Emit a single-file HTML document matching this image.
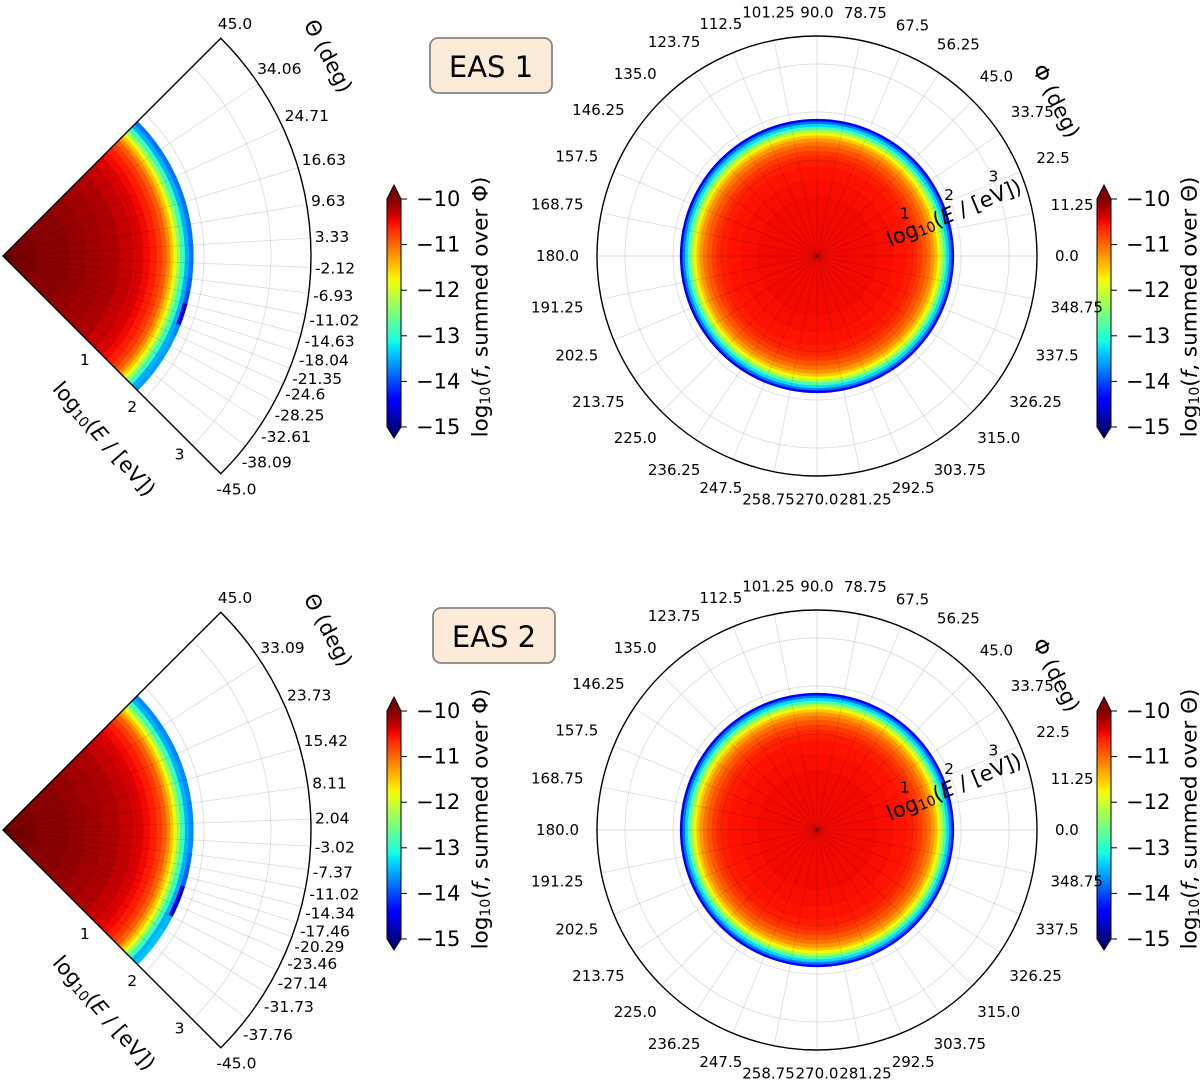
<!DOCTYPE html>
<html>
<head>
<meta charset="utf-8">
<style>
  html,body{margin:0;padding:0;background:#fff;}
  svg{display:block;font-family:"DejaVu Sans","Liberation Sans",sans-serif;}
</style>
</head>
<body>
<svg id="fig" width="1200" height="1084" viewBox="0 0 1200 1084" xmlns="http://www.w3.org/2000/svg">
  <defs>
    <linearGradient id="jetgrad" x1="0" y1="1" x2="0" y2="0"></linearGradient>
  </defs>
</svg>
<script>
// ---------------- data ----------------
const thetaTicks1 = [45.0, 34.06, 24.71, 16.63, 9.63, 3.33, -2.12, -6.93, -11.02, -14.63, -18.04, -21.35, -24.6, -28.25, -32.61, -38.09, -45.0];
const thetaTicks2 = [45.0, 33.09, 23.73, 15.42, 8.11, 2.04, -3.02, -7.37, -11.02, -14.34, -17.46, -20.29, -23.46, -27.14, -31.73, -37.76, -45.0];
const phiTicks = [0, 11.25, 22.5, 33.75, 45, 56.25, 67.5, 78.75, 90, 101.25, 112.5, 123.75, 135, 146.25, 157.5, 168.75, 180, 191.25, 202.5, 213.75, 225, 236.25, 247.5, 258.75, 270, 281.25, 292.5, 303.75, 315, 326.25, 337.5, 348.75];
const rTicks = [1, 2, 3];
const cbTicks = [-10, -11, -12, -13, -14, -15];

// wedge (log f summed over Phi) radial profile
const wedgeEdges = [-1, -0.5, 0, 0.25, 0.5, 0.75, 0.95, 1.1, 1.2, 1.3, 1.38, 1.45, 1.5, 1.55, 1.6, 1.65, 1.72, 1.78, 1.84];
const wedgeVals1 = [-10.0, -10.05, -10.1, -10.15, -10.2, -10.3, -10.4, -10.5, -10.6, -10.75, -10.95, -11.2, -11.5, -11.85, -12.3, -12.9, -13.5, -13.85];
const wedgeVals2 = [-10.0, -10.05, -10.1, -10.15, -10.2, -10.3, -10.4, -10.5, -10.6, -10.75, -10.95, -11.2, -11.5, -11.85, -12.3, -12.9, -13.5, -13.85];
// outermost energy bin per theta bin (top -> bottom)
const wedgeEdgeRing1 = [-13.8, -13.8, -13.8, -13.8, -13.8, -13.8, -13.8, -13.9, -14.0, -14.6, -14.6, -13.7, -13.6, -13.6, -13.6, -13.6];
const wedgeEdgeRing2 = [-13.7, -13.7, -13.7, -13.7, -13.7, -13.7, -13.7, -13.8, -13.9, -13.9, -14.6, -14.6, -14.6, -13.5, -13.4, -13.4];

// disk (log f summed over Theta) radial profile
const diskEdges = [-1, -0.25, 0.25, 0.6, 0.875, 1.0, 1.1, 1.2, 1.3, 1.38, 1.46, 1.52, 1.58, 1.64, 1.7, 1.76, 1.81, 1.85];
const diskVals1 = [-10.5, -10.5, -10.52, -10.55, -10.6, -10.65, -10.75, -10.9, -11.05, -11.25, -11.5, -11.8, -12.2, -12.8, -13.3, -13.8, -14.5];
const diskVals2 = [-10.5, -10.5, -10.52, -10.55, -10.6, -10.65, -10.75, -10.9, -11.05, -11.25, -11.5, -11.8, -12.2, -12.8, -13.3, -13.8, -14.4];

// ---------------- helpers ----------------
const NS = "http://www.w3.org/2000/svg";
const svg = document.getElementById('fig');
function el(tag, attrs, parent) {
  const e = document.createElementNS(NS, tag);
  for (const k in attrs) e.setAttribute(k, attrs[k]);
  (parent || svg).appendChild(e);
  return e;
}
function interp(pts, t) {
  if (t <= pts[0][0]) return pts[0][1];
  for (let i = 1; i < pts.length; i++) {
    if (t <= pts[i][0]) {
      const a = pts[i - 1], b = pts[i];
      return a[1] + (b[1] - a[1]) * (t - a[0]) / (b[0] - a[0]);
    }
  }
  return pts[pts.length - 1][1];
}
const JR = [[0, 0], [0.35, 0], [0.66, 1], [0.89, 1], [1, 0.5]];
const JG = [[0, 0], [0.125, 0], [0.375, 1], [0.64, 1], [0.91, 0], [1, 0]];
const JB = [[0, 0.5], [0.11, 1], [0.34, 1], [0.65, 0], [1, 0]];
function jet(t) {
  t = Math.max(0, Math.min(1, t));
  const c = v => Math.round(255 * v);
  return `rgb(${c(interp(JR, t))},${c(interp(JG, t))},${c(interp(JB, t))})`;
}
const VMIN = -15, VMAX = -10;
function colorOf(v) { return jet((v - VMIN) / (VMAX - VMIN)); }
function fmtTick(v) { return (Math.abs(v % 1) < 1e-9) ? v.toFixed(1) : String(v); }
function pt(cx, cy, r, aDeg) {
  const a = aDeg * Math.PI / 180;
  return [cx + r * Math.cos(a), cy - r * Math.sin(a)];
}
function sectorPath(cx, cy, r0, r1, a0, a1) {
  const p1 = pt(cx, cy, r1, a0), p2 = pt(cx, cy, r1, a1);
  const sweep = a1 > a0 ? 0 : 1;
  const large = Math.abs(a1 - a0) > 180 ? 1 : 0;
  let d = `M${p1[0]},${p1[1]} A${r1},${r1} 0 ${large} ${sweep} ${p2[0]},${p2[1]}`;
  if (r0 <= 0.01) {
    d += ` L${cx},${cy} Z`;
  } else {
    const p3 = pt(cx, cy, r0, a1), p4 = pt(cx, cy, r0, a0);
    d += ` L${p3[0]},${p3[1]} A${r0},${r0} 0 ${large} ${1 - sweep} ${p4[0]},${p4[1]} Z`;
  }
  return d;
}

(function () {
  const g = document.getElementById('jetgrad');
  for (let i = 0; i <= 40; i++) {
    const t = i / 40;
    el('stop', { offset: t, 'stop-color': jet(t) }, g);
  }
})();

const LOGE = 'log<tspan font-size="14" dy="5">10</tspan><tspan dy="-5">(</tspan><tspan font-style="italic">E</tspan> / [eV])';

// ---------------- wedge panel ----------------
function drawWedge(oy, thetaTicks, vals, edgeRing, tag) {
  const cx = 3, cy = 256 + oy, R = 308, S = 67;
  const rOf = e => S * (e + 1);
  const g = el('g', {});
  
  
  for (let j = 0; j < thetaTicks.length - 1; j++) {
    for (let i = 0; i < wedgeEdges.length - 1; i++) {
      const v = (i === wedgeEdges.length - 2) ? edgeRing[j] : vals[i];
      const col = colorOf(v);
      const p = el('path', { d: sectorPath(cx, cy, rOf(wedgeEdges[i]), rOf(wedgeEdges[i + 1]), thetaTicks[j], thetaTicks[j + 1]), fill: col, stroke: col, 'stroke-width': 0.6 }, g);
      
      
    }
  }
  const grid = el('g', { stroke: 'rgba(0,0,0,0.13)', 'stroke-width': 0.9, fill: 'none' }, g);
  
  
  thetaTicks.forEach(t => {
    const p = pt(cx, cy, R, t);
    el('line', { x1: cx, y1: cy, x2: p[0], y2: p[1] }, grid);
  });
  rTicks.forEach(rt => {
    const r = rOf(rt);
    const a = pt(cx, cy, r, 45), b = pt(cx, cy, r, -45);
    el('path', { d: `M${a[0]},${a[1]} A${r},${r} 0 0 1 ${b[0]},${b[1]}` }, grid);
  });
  const a = pt(cx, cy, R, 45), b = pt(cx, cy, R, -45);
  const o = el('path', { d: `M${cx},${cy} L${a[0]},${a[1]} A${R},${R} 0 0 1 ${b[0]},${b[1]} Z`, fill: 'none', stroke: '#000', 'stroke-width': 1.4 }, g);
  
  
  thetaTicks.forEach(t => {
    const tx = el('text', { 'font-size': 15.5, 'text-anchor': 'middle', 'dominant-baseline': 'central', fill: '#000' }, g);
    tx.textContent = fmtTick(t);
    
    
    const w = tx.getComputedTextLength ? tx.getComputedTextLength() : 35;
    const ar = t * Math.PI / 180;
    const rr = R + 4 + (w / 2) * Math.abs(Math.cos(ar)) + 5.5 * Math.abs(Math.sin(ar));
    const p = pt(cx, cy, rr, t);
    tx.setAttribute('x', p[0]); tx.setAttribute('y', p[1]);
  });
  rTicks.forEach(rt => {
    const p = pt(cx, cy, rOf(rt), -45);
    const tx = el('text', { x: p[0] - 13, y: p[1] + 9, 'font-size': 15.5, 'text-anchor': 'middle', 'dominant-baseline': 'central' }, g);
    tx.textContent = rt;
    
    
  });
  const th = el('text', { x: 0, y: 0, 'font-size': 21, 'text-anchor': 'middle', 'dominant-baseline': 'central', transform: `translate(328,${56 + oy}) rotate(62)` }, g);
  th.textContent = 'Θ (deg)';
  
  
  const et = el('text', { x: 0, y: 0, 'font-size': 21, 'text-anchor': 'middle', 'dominant-baseline': 'central', transform: `translate(104,${439 + oy}) rotate(49)` }, g);
  et.innerHTML = LOGE;
  
  
}

// ---------------- disk panel ----------------
function drawDisk(oy, vals, tag) {
  const cx = 817, cy = 256 + oy, R = 220, S = 48;
  const rOf = e => S * (e + 1);
  const g = el('g', {});
  
  
  for (let j = 0; j < phiTicks.length; j++) {
    const a0 = phiTicks[j], a1 = (j + 1 < phiTicks.length) ? phiTicks[j + 1] : 360;
    for (let i = 0; i < diskEdges.length - 1; i++) {
      const col = colorOf(vals[i]);
      const p = el('path', { d: sectorPath(cx, cy, rOf(diskEdges[i]), rOf(diskEdges[i + 1]), a0, a1), fill: col, stroke: col, 'stroke-width': 0.6 }, g);
      
      
    }
  }
  const grid = el('g', { stroke: 'rgba(0,0,0,0.13)', 'stroke-width': 0.9, fill: 'none' }, g);
  
  
  phiTicks.forEach(t => {
    const p = pt(cx, cy, R, t);
    el('line', { x1: cx, y1: cy, x2: p[0], y2: p[1] }, grid);
  });
  rTicks.forEach(rt => el('circle', { cx: cx, cy: cy, r: rOf(rt) }, grid));
  const o = el('circle', { cx: cx, cy: cy, r: R, fill: 'none', stroke: '#000', 'stroke-width': 1.4 }, g);
  
  
  phiTicks.forEach(t => {
    const tx = el('text', { 'font-size': 15, 'text-anchor': 'middle', 'dominant-baseline': 'central' }, g);
    tx.textContent = fmtTick(t);
    
    
    const w = tx.getComputedTextLength ? tx.getComputedTextLength() : 35;
    const ar = t * Math.PI / 180;
    const rr = R + 18 + (w / 2) * Math.abs(Math.cos(ar)) + 5.5 * Math.abs(Math.sin(ar));
    const p = pt(cx, cy, rr, t);
    tx.setAttribute('x', p[0]); tx.setAttribute('y', p[1]);
  });
  rTicks.forEach(rt => {
    const p = pt(cx, cy, rOf(rt), 22.5);
    const tx = el('text', { x: p[0] - 1, y: p[1] - 6, 'font-size': 15.5, 'text-anchor': 'middle', 'dominant-baseline': 'central' }, g);
    tx.textContent = rt;
    
    
  });
  const ph = el('text', { x: 0, y: 0, 'font-size': 21, 'text-anchor': 'middle', 'dominant-baseline': 'central', transform: `translate(1056,${101 + oy}) rotate(63)` }, g);
  ph.textContent = 'Φ (deg)';
  
  
  const et = el('text', { x: 0, y: 0, 'font-size': 21, 'text-anchor': 'middle', 'dominant-baseline': 'central', transform: `translate(954,${213 + oy}) rotate(-22.5)` }, g);
  et.innerHTML = LOGE;
  
  
}

// ---------------- colorbar ----------------
function drawColorbar(x, oy, over, tag, titleX) {
  const x0 = x, w = 14, yTop = 199 + oy, yBot = 427 + oy;
  const yOf = v => yTop + (VMAX - v) / (VMAX - VMIN) * (yBot - yTop);
  const g = el('g', {});
  
  
  el('rect', { x: x0, y: yTop, width: w, height: yBot - yTop, fill: 'url(#jetgrad)' }, g);
  el('path', { d: `M${x0},${yTop} L${x0 + w / 2},${yTop - 14} L${x0 + w},${yTop} Z`, fill: '#800000' }, g);
  el('path', { d: `M${x0},${yBot} L${x0 + w / 2},${yBot + 11} L${x0 + w},${yBot} Z`, fill: '#000080' }, g);
  el('path', { d: `M${x0},${yTop} L${x0 + w / 2},${yTop - 14} L${x0 + w},${yTop} L${x0 + w},${yBot} L${x0 + w / 2},${yBot + 11} L${x0},${yBot} Z`, fill: 'none', stroke: '#000', 'stroke-width': 1 }, g);
  cbTicks.forEach(v => {
    const y = yOf(v);
    el('line', { x1: x0 + w, y1: y, x2: x0 + w + 6, y2: y, stroke: '#000', 'stroke-width': 1 }, g);
    const t = el('text', { x: x0 + w + 15, y: y, 'font-size': 21, 'dominant-baseline': 'central' }, g);
    t.textContent = '−' + Math.abs(v);
    
    
  });
  const ty = (yTop + yBot) / 2 - 6;
  const tt = el('text', { x: 0, y: 0, 'font-size': 21.5, 'text-anchor': 'middle', 'dominant-baseline': 'central', transform: `translate(${titleX},${ty}) rotate(-90)` }, g);
  tt.innerHTML = 'log<tspan font-size="14" dy="5">10</tspan><tspan dy="-5">(</tspan><tspan font-style="italic">f</tspan>, summed over ' + over + ')';
  
  
}

function drawBox(x, y, label) {
  const g = el('g', {});
  
  
  el('rect', { x: x, y: y, width: 122, height: 55, rx: 8, ry: 8, fill: '#fbebd8', stroke: '#858585', 'stroke-width': 1.8 }, g);
  const t = el('text', { x: x + 61, y: y + 29, 'font-size': 29, 'text-anchor': 'middle', 'dominant-baseline': 'central' }, g);
  t.textContent = label;
}

drawColorbar(387, 0, 'Φ', 'theta-eas1', 481);
drawColorbar(1097, 0, 'Θ', 'phi-eas1', 1190);
drawColorbar(387, 512, 'Φ', 'theta-eas2', 481);
drawColorbar(1097, 512, 'Θ', 'phi-eas2', 1190);

drawWedge(0, thetaTicks1, wedgeVals1, wedgeEdgeRing1, 'eas1');
drawDisk(0, diskVals1, 'eas1');
drawBox(430, 38, 'EAS 1');

drawWedge(574, thetaTicks2, wedgeVals2, wedgeEdgeRing2, 'eas2');
drawDisk(574, diskVals2, 'eas2');
drawBox(433, 608, 'EAS 2');
</script>
</body>
</html>
